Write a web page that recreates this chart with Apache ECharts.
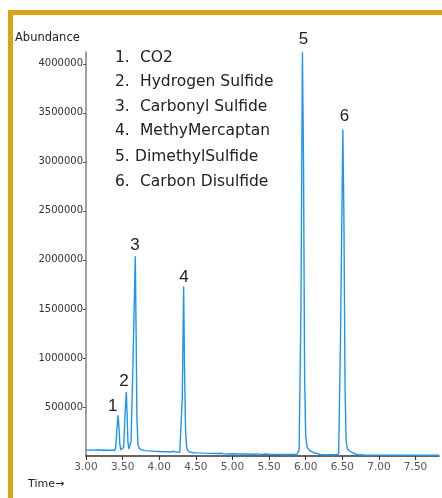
<!DOCTYPE html>
<html>
<head>
<meta charset="utf-8">
<script src="https://cdn.jsdelivr.net/npm/echarts@6/dist/echarts.min.js"></script>
<style>html,body{margin:0;padding:0;background:#fff;}#c{width:442px;height:498px;}</style>
</head>
<body>
<div id="c"></div>
<script>
// Chromatogram trace: time (min) and abundance
var times = [3.00,3.02,3.03,3.06,3.08,3.09,3.12,3.16,3.20,3.25,3.30,3.35,3.39,3.405,3.42,3.437,3.45,3.462,3.475,3.50,3.515,3.53,3.55,3.56,3.572,3.585,3.60,3.615,3.64,3.673,3.685,3.695,3.71,3.73,3.76,3.80,3.85,3.90,3.95,4.00,4.05,4.10,4.15,4.18,4.20,4.24,4.28,4.30,4.315,4.333,4.345,4.36,4.375,4.40,4.45,4.50,4.60,4.70,4.80,4.85,4.88,4.90,4.95,5.00,5.10,5.20,5.30,5.35,5.40,5.45,5.50,5.60,5.70,5.80,5.88,5.91,5.935,5.955,5.97,5.985,6.00,6.02,6.05,6.08,6.12,6.16,6.20,6.30,6.40,6.45,6.475,6.507,6.522,6.537,6.552,6.57,6.60,6.64,6.68,6.72,6.80,7.00,7.50,7.82];
var abundance = [62000,66000,60000,63000,68000,61000,60000,64000,59000,61000,58000,60000,58000,80000,250000,415000,300000,120000,62000,64000,90000,380000,652000,450000,150000,70000,72000,150000,900000,2038000,1200000,400000,110000,75000,62000,55000,52000,50000,47000,46000,44000,43000,41000,48000,40000,40000,38000,45000,600000,1728000,900000,250000,80000,45000,36000,32000,29000,27000,25000,28000,22000,26000,21000,23000,20000,21000,18000,22000,17000,21000,18000,17000,16000,15000,15000,60000,1500000,4118000,3000000,800000,200000,90000,60000,45000,30000,25000,15000,12000,12000,20000,1200000,3330000,2400000,700000,150000,70000,50000,35000,20000,12000,10000,9000,8000,8000];

var xTicks = [3.0,3.5,4.0,4.5,5.0,5.5,6.0,6.5,7.0,7.5];
var yTicks = [500000,1000000,1500000,2000000,2500000,3000000,3500000,4000000];

var legendNums = ['1.','2.','3.','4.','5.','6.'];
var legendNames = ['CO2','Hydrogen Sulfide','Carbonyl Sulfide','MethyMercaptan','DimethylSulfide','Carbon Disulfide'];

var peakLabels = ['1','2','3','4','5','6'];
var peakLabelTimes = [3.365,3.519,3.669,4.339,5.970,6.531];
var peakLabelValues = [510000,758000,2152000,1822000,4249000,3467000];

var data = times.map(function(t,i){return [t, abundance[i]];});

var chart = echarts.init(document.getElementById('c'), null, {renderer:'canvas'});
var option = {
  animation:false,
  backgroundColor:'#fff',
  grid:{left:86,right:3,top:52,bottom:42,containLabel:false},
  xAxis:{
    type:'value',min:3.0,max:7.82,interval:0.5,
    axisLine:{show:true,onZero:false,lineStyle:{color:'#333',width:1.5}},
    axisTick:{show:true,length:4,customValues:xTicks,lineStyle:{color:'#333',width:1}},
    axisLabel:{customValues:xTicks,color:'#555',fontFamily:'DejaVu Sans',fontSize:10.5,margin:6,
      formatter:function(v){return v.toFixed(2);}},
    splitLine:{show:false}
  },
  yAxis:{
    type:'value',min:0,max:4120000,interval:500000,
    axisLine:{show:true,lineStyle:{color:'#808080',width:1.5}},
    axisTick:{show:true,length:3,customValues:yTicks,lineStyle:{color:'#555',width:1}},
    axisLabel:{customValues:yTicks,color:'#333',fontFamily:'DejaVu Sans',fontSize:10,margin:3,
      formatter:function(v){return String(v);}},
    splitLine:{show:false}
  },
  series:[{
    type:'line',data:data,showSymbol:false,symbol:'none',
    lineStyle:{color:'#1E96F0',width:1.4},
    clip:false
  }]
};
chart.setOption(option);

var graphics = [
  {type:'rect',shape:{x:8,y:10,width:434,height:5},style:{fill:'#D9A21A'},z:100},
  {type:'rect',shape:{x:8,y:10,width:5,height:488},style:{fill:'#D9A21A'},z:100},
  {type:'text',x:15,y:38,style:{text:'Abundance',font:'11.5px "DejaVu Sans"',fill:'#222',textVerticalAlign:'middle'}},
  {type:'text',x:28,y:484,style:{text:'Time\u2192',font:'11px "DejaVu Sans"',fill:'#222',textVerticalAlign:'middle'}}
];
var legendY = [57.5,82,106.5,131,156.5,181.5];
for (var i=0;i<legendNames.length;i++){
  graphics.push({type:'text',x:115,y:legendY[i],style:{text:legendNums[i],font:'15.5px "DejaVu Sans"',fill:'#222',textVerticalAlign:'middle'}});
  graphics.push({type:'text',x:(i===4?135:140),y:legendY[i],style:{text:legendNames[i],font:'15.5px "DejaVu Sans"',fill:'#222',textVerticalAlign:'middle'}});
}
for (var j=0;j<peakLabels.length;j++){
  var p = chart.convertToPixel({gridIndex:0},[peakLabelTimes[j],peakLabelValues[j]]);
  graphics.push({type:'text',x:p[0],y:p[1],style:{text:peakLabels[j],font:'17px "Liberation Sans"',fill:'#222',textAlign:'center',textVerticalAlign:'middle'}});
}
chart.setOption({graphic:graphics});
</script>
</body>
</html>
